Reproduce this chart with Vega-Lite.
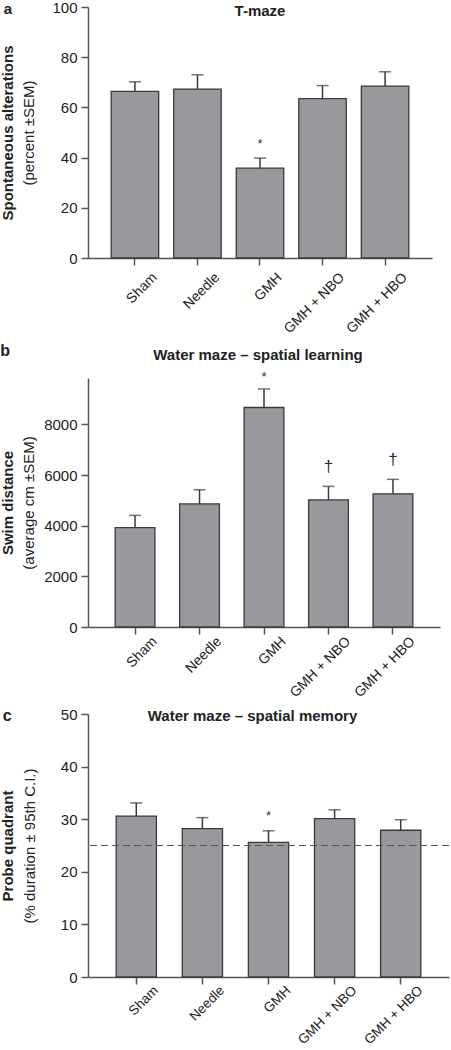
{
  "$schema": "https://vega.github.io/schema/vega-lite/v6.json",
  "padding": {"left": 0, "top": 0, "right": 0, "bottom": 0},
  "spacing": 7,
  "config": {
    "view": {"stroke": null},
    "font": "Liberation Sans",
    "axis": {
      "grid": false,
      "domainColor": "#555555",
      "tickColor": "#555555",
      "domainWidth": 1.5,
      "tickWidth": 1.5,
      "tickSize": 7,
      "labelFont": "Liberation Sans",
      "labelFontSize": 15,
      "labelColor": "#222222",
      "labelPadding": 4,
      "titleFont": "Liberation Sans",
      "titleFontSize": 15,
      "titleColor": "#222222",
      "titleFontWeight": "normal"
    },
    "text": {"font": "Liberation Sans"}
  },
  "vconcat": [
    {
      "width": 344,
      "height": 251,
      "data": {"values": [
        {"group": "Sham", "mean": 66.4, "err": 70.2, "sig": ""},
        {"group": "Needle", "mean": 67.3, "err": 73.0, "sig": ""},
        {"group": "GMH", "mean": 35.8, "err": 39.8, "sig": "*"},
        {"group": "GMH + NBO", "mean": 63.5, "err": 68.7, "sig": ""},
        {"group": "GMH + HBO", "mean": 68.5, "err": 74.2, "sig": ""}
      ]},
      "layer": [
        {
          "mark": {"type": "bar", "fill": "#98999c", "stroke": "#3a3a3a", "strokeWidth": 1.3},
          "encoding": {
            "x": {"field": "group", "type": "nominal", "sort": null,
              "scale": {"paddingInner": 0.241, "paddingOuter": 0.371},
              "axis": {"title": null, "labelAngle": -45, "labelAlign": "right", "labelBaseline": "top", "labelFontSize": 14, "labelPadding": 5, "labelOffset": 15}},
            "y": {"field": "mean", "type": "quantitative",
              "scale": {"domain": [0, 100], "nice": false},
              "axis": {"orient": "left", "values": [0, 20, 40, 60, 80, 100], "format": "d", "title": "(percent ±SEM)", "titlePadding": 15}}
          }
        },
        {
          "mark": {"type": "rule", "color": "#3a3a3a", "strokeWidth": 1.5},
          "encoding": {
            "x": {"field": "group", "type": "nominal", "sort": null},
            "y": {"field": "mean", "type": "quantitative",
              "axis": {"orient": "left", "labels": false, "ticks": false, "domain": false, "title": "Spontaneous alterations", "titleFontWeight": "bold", "titlePadding": 73}},
            "y2": {"field": "err"}
          }
        },
        {
          "mark": {"type": "tick", "color": "#3a3a3a", "size": 12, "thickness": 1.5},
          "encoding": {
            "x": {"field": "group", "type": "nominal", "sort": null},
            "y": {"field": "err", "type": "quantitative", "axis": null}
          }
        },
        {
          "transform": [{"filter": "datum.sig === '*'"}],
          "mark": {"type": "text", "baseline": "bottom", "fontSize": 13, "color": "#333333", "dy": -7},
          "encoding": {
            "x": {"field": "group", "type": "nominal", "sort": null},
            "y": {"field": "err", "type": "quantitative", "axis": null},
            "text": {"field": "sig"}
          }
        },
        {
          "transform": [{"filter": "datum.group === 'GMH'"}],
          "mark": {"type": "text", "text": "T-maze", "fontWeight": "bold", "fontSize": 15, "baseline": "top", "dy": -3, "color": "#222222"},
          "encoding": {
            "x": {"field": "group", "type": "nominal", "sort": null},
            "y": {"datum": 100, "axis": null}
          }
        },
        {
          "transform": [{"filter": "datum.group === 'Sham'"}],
          "mark": {"type": "text", "text": "a", "fontWeight": "bold", "fontSize": 15, "baseline": "alphabetic", "align": "center", "dx": -127, "dy": 7, "color": "#222222"},
          "encoding": {
            "x": {"field": "group", "type": "nominal", "sort": null},
            "y": {"datum": 100, "axis": null}
          }
        }
      ],
      "resolve": {"axis": {"y": "independent"}}
    },
    {
      "width": 352,
      "height": 249,
      "data": {"values": [
        {"group": "Sham", "mean": 3927, "err": 4406, "sig": ""},
        {"group": "Needle", "mean": 4859, "err": 5418, "sig": ""},
        {"group": "GMH", "mean": 8666, "err": 9398, "sig": "*"},
        {"group": "GMH + NBO", "mean": 5018, "err": 5551, "sig": "†"},
        {"group": "GMH + HBO", "mean": 5258, "err": 5830, "sig": "†"}
      ]},
      "layer": [
        {
          "mark": {"type": "bar", "fill": "#98999c", "stroke": "#3a3a3a", "strokeWidth": 1.3},
          "encoding": {
            "x": {"field": "group", "type": "nominal", "sort": null,
              "scale": {"paddingInner": 0.383, "paddingOuter": 0.421},
              "axis": {"title": null, "labelAngle": -45, "labelAlign": "right", "labelBaseline": "top", "labelFontSize": 14, "labelPadding": 0, "labelOffset": 15}},
            "y": {"field": "mean", "type": "quantitative",
              "scale": {"domain": [0, 9830], "nice": false},
              "axis": {"orient": "left", "values": [0, 2000, 4000, 6000, 8000], "format": "d", "title": "(average cm ±SEM)", "titlePadding": 7}}
          }
        },
        {
          "mark": {"type": "rule", "color": "#3a3a3a", "strokeWidth": 1.5},
          "encoding": {
            "x": {"field": "group", "type": "nominal", "sort": null},
            "y": {"field": "mean", "type": "quantitative",
              "axis": {"orient": "left", "labels": false, "ticks": false, "domain": false, "title": "Swim distance", "titleFontWeight": "bold", "titlePadding": 73}},
            "y2": {"field": "err"}
          }
        },
        {
          "mark": {"type": "tick", "color": "#3a3a3a", "size": 12, "thickness": 1.5},
          "encoding": {
            "x": {"field": "group", "type": "nominal", "sort": null},
            "y": {"field": "err", "type": "quantitative", "axis": null}
          }
        },
        {
          "transform": [{"filter": "datum.sig === '*'"}],
          "mark": {"type": "text", "baseline": "bottom", "fontSize": 13, "color": "#333333", "dy": -5},
          "encoding": {
            "x": {"field": "group", "type": "nominal", "sort": null},
            "y": {"field": "err", "type": "quantitative", "axis": null},
            "text": {"field": "sig"}
          }
        },
        {
          "transform": [{"filter": "datum.sig === '†'"}],
          "mark": {"type": "text", "baseline": "bottom", "fontSize": 17, "color": "#1c2a4f", "dy": -10},
          "encoding": {
            "x": {"field": "group", "type": "nominal", "sort": null},
            "y": {"field": "err", "type": "quantitative", "axis": null},
            "text": {"field": "sig"}
          }
        },
        {
          "transform": [{"filter": "datum.group === 'GMH'"}],
          "mark": {"type": "text", "text": "Water maze – spatial learning", "fontWeight": "bold", "fontSize": 15, "baseline": "top", "dy": -30, "dx": -6, "color": "#222222"},
          "encoding": {
            "x": {"field": "group", "type": "nominal", "sort": null},
            "y": {"datum": 9830, "axis": null}
          }
        },
        {
          "transform": [{"filter": "datum.group === 'Sham'"}],
          "mark": {"type": "text", "text": "b", "fontWeight": "bold", "fontSize": 16, "baseline": "alphabetic", "align": "center", "dx": -130, "dy": -22, "color": "#222222"},
          "encoding": {
            "x": {"field": "group", "type": "nominal", "sort": null},
            "y": {"datum": 9830, "axis": null}
          }
        }
      ],
      "resolve": {"axis": {"y": "independent"}}
    },
    {
      "width": 361,
      "height": 263,
      "data": {"values": [
        {"group": "Sham", "mean": 30.6, "err": 33.1, "sig": ""},
        {"group": "Needle", "mean": 28.2, "err": 30.3, "sig": ""},
        {"group": "GMH", "mean": 25.6, "err": 27.8, "sig": "*"},
        {"group": "GMH + NBO", "mean": 30.1, "err": 31.8, "sig": ""},
        {"group": "GMH + HBO", "mean": 27.9, "err": 29.9, "sig": ""}
      ]},
      "layer": [
        {
          "mark": {"type": "bar", "fill": "#98999c", "stroke": "#3a3a3a", "strokeWidth": 1.3},
          "encoding": {
            "x": {"field": "group", "type": "nominal", "sort": null,
              "scale": {"paddingInner": 0.391, "paddingOuter": 0.426},
              "axis": {"title": null, "labelAngle": -45, "labelAlign": "right", "labelBaseline": "top", "labelFontSize": 13.5, "labelPadding": -1, "labelOffset": 15}},
            "y": {"field": "mean", "type": "quantitative",
              "scale": {"domain": [0, 50], "nice": false},
              "axis": {"orient": "left", "values": [0, 10, 20, 30, 40, 50], "format": "d", "title": "(% duration ± 95th C.I.)", "titlePadding": 23}}
          }
        },
        {
          "mark": {"type": "rule", "color": "#3a3a3a", "strokeWidth": 1.5},
          "encoding": {
            "x": {"field": "group", "type": "nominal", "sort": null},
            "y": {"field": "mean", "type": "quantitative",
              "axis": {"orient": "left", "labels": false, "ticks": false, "domain": false, "title": "Probe quadrant", "titleFontWeight": "bold", "titlePadding": 73}},
            "y2": {"field": "err"}
          }
        },
        {
          "mark": {"type": "tick", "color": "#3a3a3a", "size": 12, "thickness": 1.5},
          "encoding": {
            "x": {"field": "group", "type": "nominal", "sort": null},
            "y": {"field": "err", "type": "quantitative", "axis": null}
          }
        },
        {
          "mark": {"type": "rule", "color": "#555555", "strokeWidth": 1, "strokeDash": [7, 4]},
          "encoding": {
            "y": {"datum": 25, "type": "quantitative", "axis": null}
          }
        },
        {
          "transform": [{"filter": "datum.sig === '*'"}],
          "mark": {"type": "text", "baseline": "bottom", "fontSize": 13, "color": "#333333", "dy": -8},
          "encoding": {
            "x": {"field": "group", "type": "nominal", "sort": null},
            "y": {"field": "err", "type": "quantitative", "axis": null},
            "text": {"field": "sig"}
          }
        },
        {
          "transform": [{"filter": "datum.group === 'GMH'"}],
          "mark": {"type": "text", "text": "Water maze – spatial memory", "fontWeight": "bold", "fontSize": 15, "baseline": "top", "dy": -5, "dx": -16, "color": "#222222"},
          "encoding": {
            "x": {"field": "group", "type": "nominal", "sort": null},
            "y": {"datum": 50, "axis": null}
          }
        },
        {
          "transform": [{"filter": "datum.group === 'Sham'"}],
          "mark": {"type": "text", "text": "c", "fontWeight": "bold", "fontSize": 16, "baseline": "alphabetic", "align": "center", "dx": -129, "dy": 7, "color": "#222222"},
          "encoding": {
            "x": {"field": "group", "type": "nominal", "sort": null},
            "y": {"datum": 50, "axis": null}
          }
        }
      ],
      "resolve": {"axis": {"y": "independent"}}
    }
  ]
}
